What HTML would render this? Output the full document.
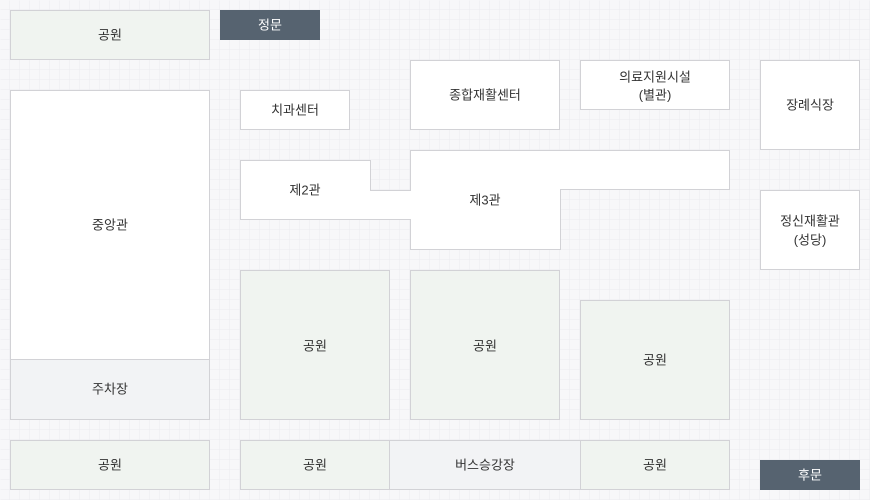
<!DOCTYPE html>
<html><head><meta charset="utf-8"><style>
html,body{margin:0;padding:0;background:#f7f7f9}
svg{display:block}
text{font-family:"Liberation Sans","Noto Sans CJK KR",sans-serif;font-size:13px;fill:#333;text-anchor:middle;dominant-baseline:central}
</style></head><body>
<svg width="870" height="500" xmlns="http://www.w3.org/2000/svg">
<defs><pattern id="g" width="10" height="10" patternUnits="userSpaceOnUse">
<path d="M10 0V10M0 10H10" fill="none" stroke="#ebebef" stroke-width="1"/></pattern></defs>
<rect width="870" height="500" fill="#f7f7f9"/>
<rect x="0.5" y="0.5" width="870" height="500" fill="url(#g)"/>
<g stroke="#d2d2d6" stroke-width="1">
<rect x="10.5" y="10.5" width="199" height="49" fill="#f0f4f0"/>
<rect x="220" y="10" width="100" height="30" fill="#566370" stroke="none"/>
<rect x="10.5" y="90.5" width="199" height="269" fill="#fff"/>
<rect x="10.5" y="359.5" width="199" height="60" fill="#f2f3f5"/>
<rect x="240.5" y="90.5" width="109" height="39" fill="#fff"/>
<rect x="410.5" y="60.5" width="149" height="69" fill="#fff"/>
<rect x="580.5" y="60.5" width="149" height="49" fill="#fff"/>
<rect x="760.5" y="60.5" width="99" height="89" fill="#fff"/>
<rect x="760.5" y="190.5" width="99" height="79" fill="#fff"/>
<polygon points="240.5,160.5 370.5,160.5 370.5,190.5 410.5,190.5 410.5,150.5 729.5,150.5 729.5,189.5 560.5,189.5 560.5,249.5 410.5,249.5 410.5,219.5 240.5,219.5" fill="#fff"/>
<rect x="240.5" y="270.5" width="149" height="149" fill="#f0f4f0"/>
<rect x="410.5" y="270.5" width="149" height="149" fill="#f0f4f0"/>
<rect x="580.5" y="300.5" width="149" height="119" fill="#f0f4f0"/>
<rect x="10.5" y="440.5" width="199" height="49" fill="#f0f4f0"/>
<rect x="240.5" y="440.5" width="149" height="49" fill="#f0f4f0"/>
<rect x="389.5" y="440.5" width="191" height="49" fill="#f2f3f5"/>
<rect x="580.5" y="440.5" width="149" height="49" fill="#f0f4f0"/>
</g>
<rect x="760" y="460" width="100" height="30" fill="#566370"/>
<text x="110" y="35">공원</text>
<text x="270" y="25" style="fill:#fff">정문</text>
<text x="110" y="225">중앙관</text>
<text x="110" y="389">주차장</text>
<text x="295" y="110">치과센터</text>
<text x="485" y="95">종합재활센터</text>
<text x="655" y="77">의료지원시설</text>
<text x="655" y="95">(별관)</text>
<text x="810" y="105">장례식장</text>
<text x="810" y="221">정신재활관</text>
<text x="810" y="240">(성당)</text>
<text x="305" y="190">제2관</text>
<text x="485" y="200">제3관</text>
<text x="315" y="346">공원</text>
<text x="485" y="346">공원</text>
<text x="655" y="360">공원</text>
<text x="110" y="465">공원</text>
<text x="315" y="465">공원</text>
<text x="485" y="465">버스승강장</text>
<text x="655" y="465">공원</text>
<text x="810" y="475" style="fill:#fff">후문</text>
</svg>
</body></html>
